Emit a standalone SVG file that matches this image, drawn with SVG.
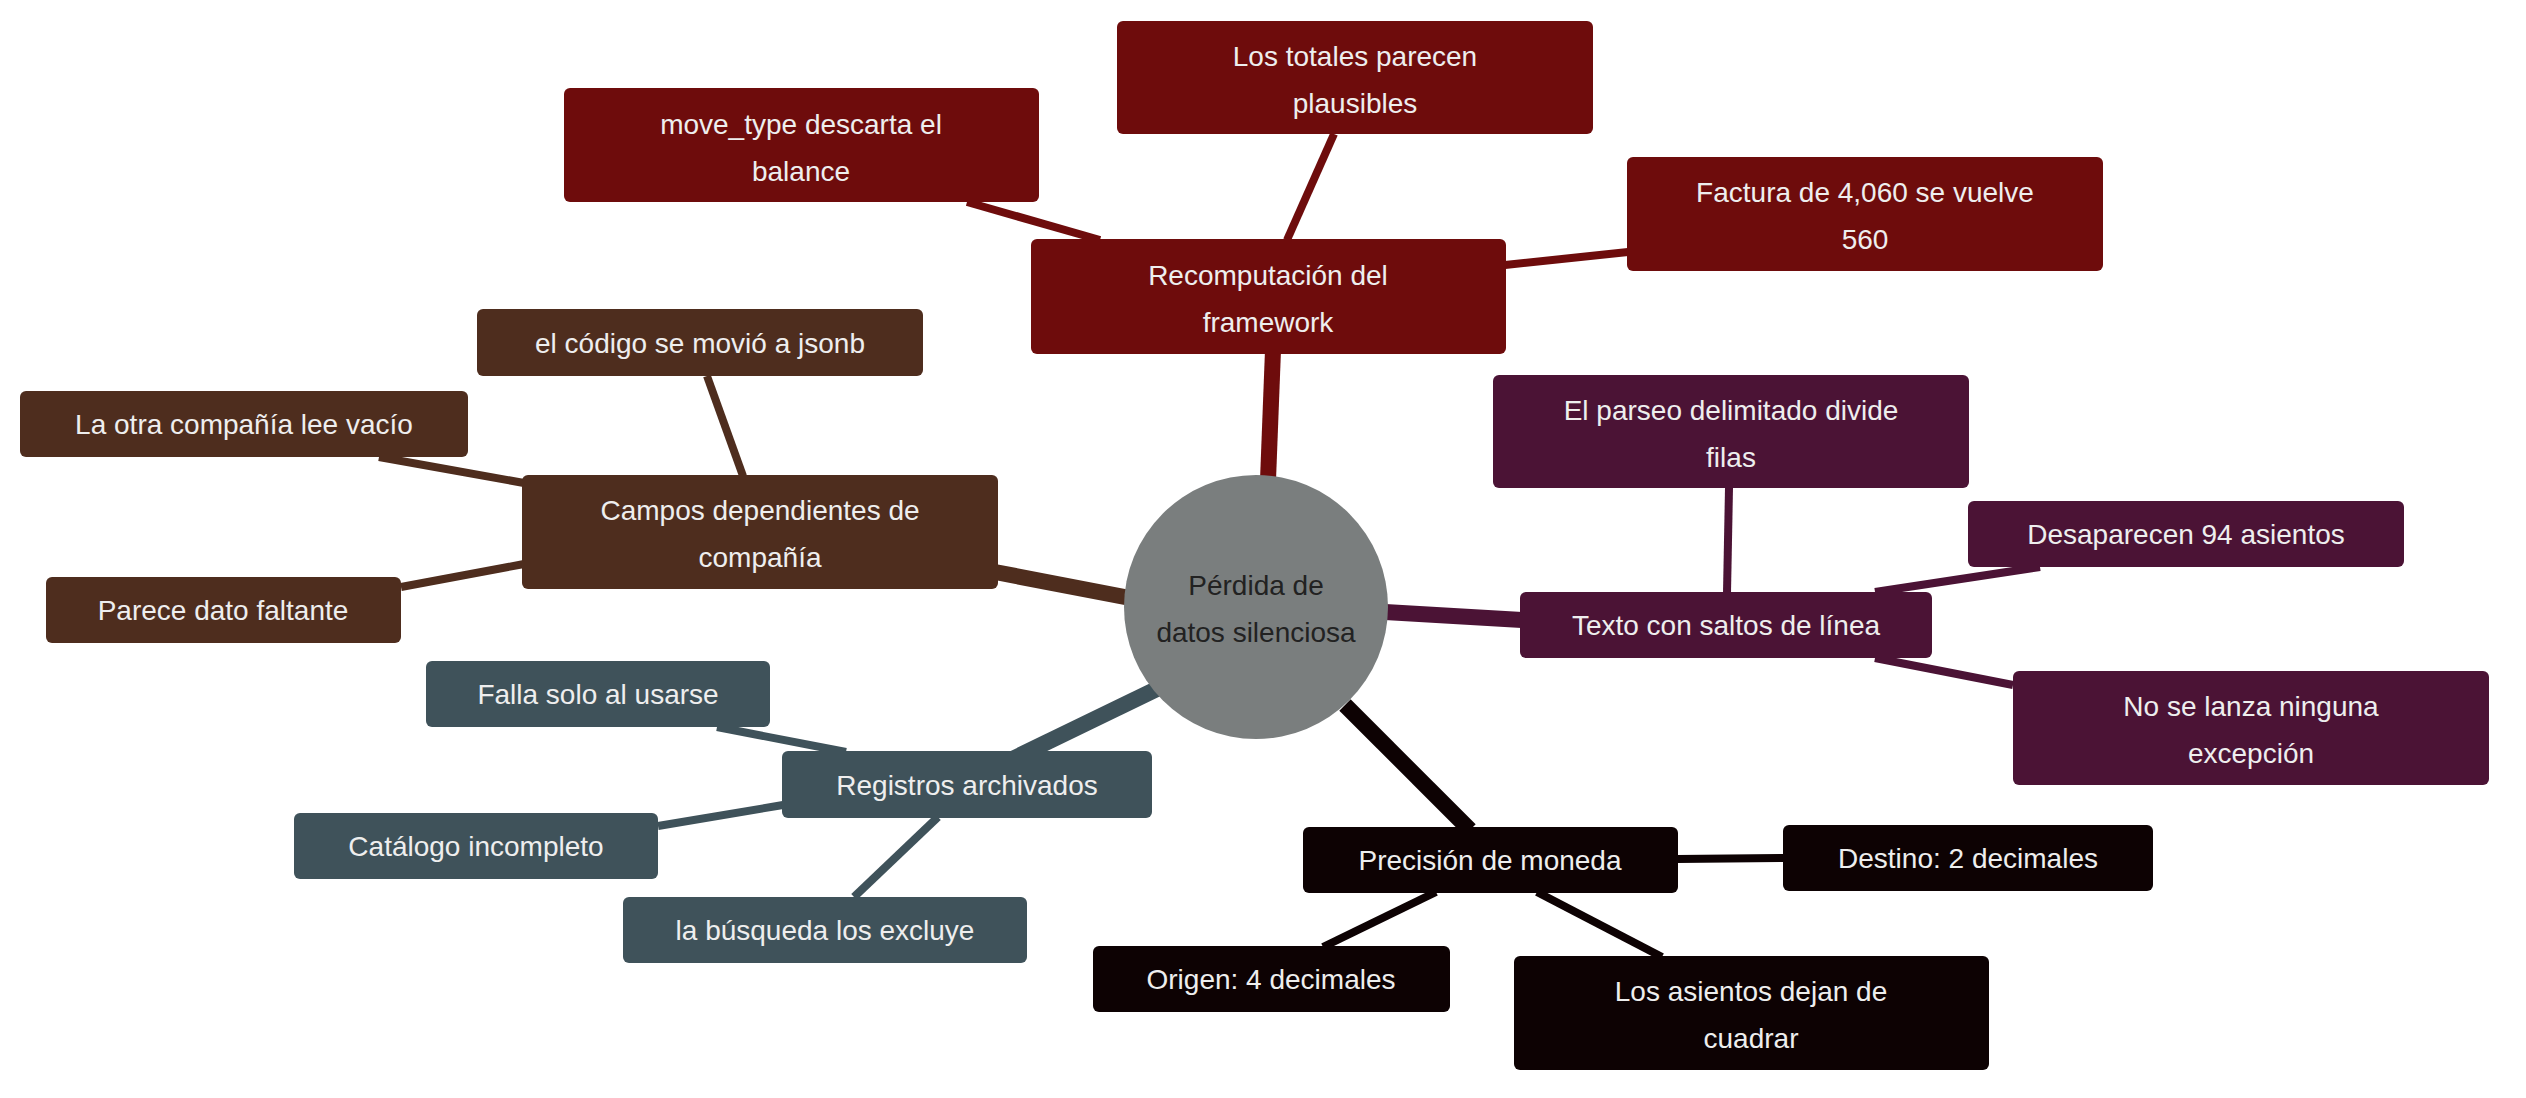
<svg xmlns="http://www.w3.org/2000/svg" width="2526" height="1098" viewBox="0 0 2526 1098">
<style>
text{font-family:"Liberation Sans",Arial,sans-serif;font-size:28px;fill:#eeeeee;text-anchor:middle}
.r{fill:#6e0c0c}.b{fill:#4e2d1e}.s{fill:#3f525a}.p{fill:#4b1335}.k{fill:#0d0203}
.er{stroke:#6e0c0c}.eb{stroke:#4e2d1e}.es{stroke:#3f525a}.ep{stroke:#4b1335}.ek{stroke:#0d0203}
line{stroke-linecap:butt}
.m{stroke-width:16}.l{stroke-width:8}
</style>
<rect width="2526" height="1098" fill="#fff"/>
<g id="connectors">
<line class="er m" x1="1268" y1="480" x2="1273" y2="350"/>
<line class="eb m" x1="1130" y1="598" x2="995" y2="572"/>
<line class="es m" x1="1165" y1="685" x2="1000" y2="765"/>
<line class="ep m" x1="1385" y1="612" x2="1522" y2="620"/>
<line class="ek m" x1="1345" y1="705" x2="1470" y2="830"/>
<line class="er l" x1="967" y1="202" x2="1100" y2="240"/>
<line class="er l" x1="1334" y1="134" x2="1287" y2="240"/>
<line class="er l" x1="1505" y1="265" x2="1628" y2="252"/>
<line class="eb l" x1="707" y1="376" x2="743" y2="476"/>
<line class="eb l" x1="379" y1="457" x2="524" y2="483"/>
<line class="eb l" x1="401" y1="587" x2="524" y2="564"/>
<line class="es l" x1="717" y1="727" x2="846" y2="752"/>
<line class="es l" x1="658" y1="826" x2="783" y2="805"/>
<line class="es l" x1="854" y1="897" x2="938" y2="817"/>
<line class="ep l" x1="1729" y1="488" x2="1727" y2="593"/>
<line class="ep l" x1="1875" y1="592" x2="2040" y2="567"/>
<line class="ep l" x1="1875" y1="658" x2="2013" y2="685"/>
<line class="ek l" x1="1677" y1="859" x2="1784" y2="858"/>
<line class="ek l" x1="1436" y1="892" x2="1323" y2="947"/>
<line class="ek l" x1="1537" y1="892" x2="1662" y2="957"/>
</g>
<g id="center"><circle cx="1256" cy="607" r="132" fill="#7a7e7e"/><text x="1256" y="595" style="fill:#222">Pérdida de</text><text x="1256" y="642" style="fill:#222">datos silenciosa</text></g>
<g id="recomp"><rect class="r" x="1031" y="239" width="475" height="115" rx="6"/><text x="1268" y="285">Recomputación del</text><text x="1268" y="332">framework</text></g>
<g id="movetype"><rect class="r" x="564" y="88" width="475" height="114" rx="6"/><text x="801" y="134">move_type descarta el</text><text x="801" y="181">balance</text></g>
<g id="totales"><rect class="r" x="1117" y="21" width="476" height="113" rx="6"/><text x="1355" y="66">Los totales parecen</text><text x="1355" y="113">plausibles</text></g>
<g id="factura"><rect class="r" x="1627" y="157" width="476" height="114" rx="6"/><text x="1865" y="202">Factura de 4,060 se vuelve</text><text x="1865" y="249">560</text></g>
<g id="campos"><rect class="b" x="522" y="475" width="476" height="114" rx="6"/><text x="760" y="520">Campos dependientes de</text><text x="760" y="567">compañía</text></g>
<g id="codigo"><rect class="b" x="477" y="309" width="446" height="67" rx="6"/><text x="700" y="353">el código se movió a jsonb</text></g>
<g id="otra"><rect class="b" x="20" y="391" width="448" height="66" rx="6"/><text x="244" y="434">La otra compañía lee vacío</text></g>
<g id="parece"><rect class="b" x="46" y="577" width="355" height="66" rx="6"/><text x="223" y="620">Parece dato faltante</text></g>
<g id="registros"><rect class="s" x="782" y="751" width="370" height="67" rx="6"/><text x="967" y="795">Registros archivados</text></g>
<g id="falla"><rect class="s" x="426" y="661" width="344" height="66" rx="6"/><text x="598" y="704">Falla solo al usarse</text></g>
<g id="catalogo"><rect class="s" x="294" y="813" width="364" height="66" rx="6"/><text x="476" y="856">Catálogo incompleto</text></g>
<g id="busqueda"><rect class="s" x="623" y="897" width="404" height="66" rx="6"/><text x="825" y="940">la búsqueda los excluye</text></g>
<g id="texto"><rect class="p" x="1520" y="592" width="412" height="66" rx="6"/><text x="1726" y="635">Texto con saltos de línea</text></g>
<g id="parseo"><rect class="p" x="1493" y="375" width="476" height="113" rx="6"/><text x="1731" y="420">El parseo delimitado divide</text><text x="1731" y="467">filas</text></g>
<g id="desaparecen"><rect class="p" x="1968" y="501" width="436" height="66" rx="6"/><text x="2186" y="544">Desaparecen 94 asientos</text></g>
<g id="nolanza"><rect class="p" x="2013" y="671" width="476" height="114" rx="6"/><text x="2251" y="716">No se lanza ninguna</text><text x="2251" y="763">excepción</text></g>
<g id="precision"><rect class="k" x="1303" y="827" width="375" height="66" rx="6"/><text x="1490" y="870">Precisión de moneda</text></g>
<g id="destino"><rect class="k" x="1783" y="825" width="370" height="66" rx="6"/><text x="1968" y="868">Destino: 2 decimales</text></g>
<g id="origen"><rect class="k" x="1093" y="946" width="357" height="66" rx="6"/><text x="1271" y="989">Origen: 4 decimales</text></g>
<g id="asientos"><rect class="k" x="1514" y="956" width="475" height="114" rx="6"/><text x="1751" y="1001">Los asientos dejan de</text><text x="1751" y="1048">cuadrar</text></g>
</svg>
